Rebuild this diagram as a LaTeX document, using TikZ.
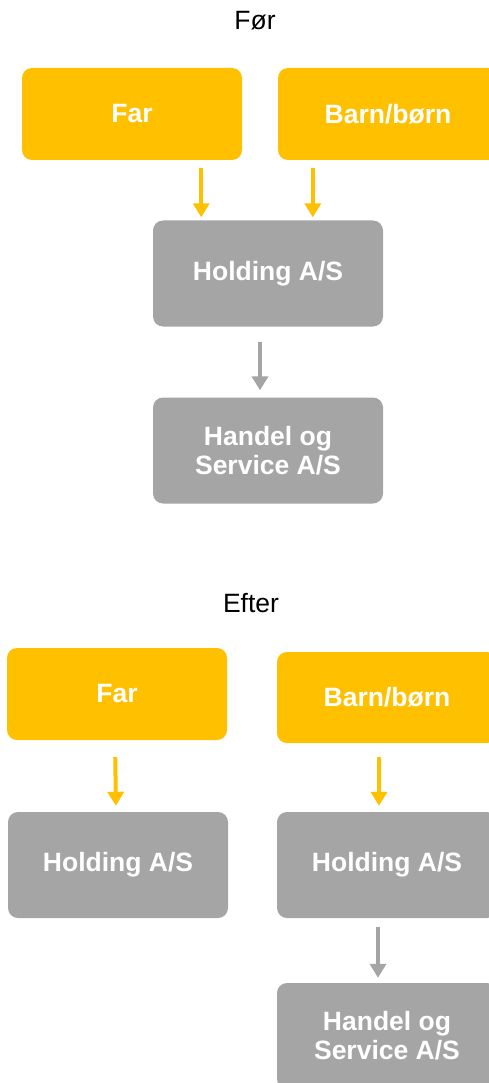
\documentclass[tikz,border=0pt]{standalone}
\usepackage{fontspec}
\setmainfont{Liberation Sans}
\usetikzlibrary{positioning, arrows.meta}
\definecolor{gold}{HTML}{FFC000}
\definecolor{midgray}{HTML}{A5A5A5}

\begin{document}
\begin{tikzpicture}
[x=1pt,y=-1pt,on grid,node distance=1pt,
                    title/.style={font=\fontsize{26.5}{30}\selectfont, anchor=base},
                    box/.style={rounded corners=10pt, inner sep=0pt, align=center, text=white,
                      font=\fontsize{26.5}{29}\selectfont\bfseries},
                    owner/.style={box, fill=gold, minimum width=220pt, minimum height=92pt},
                    firm/.style={box, fill=midgray, minimum height=106pt},
                    goldarrow/.style={draw=gold, line width=4pt, -{Triangle[width=16pt,length=14pt]}},
                    grayarrow/.style={draw=midgray, line width=4pt, -{Triangle[width=16pt,length=14pt]}}]
\useasboundingbox (0,0) rectangle (488,1083);

% Foer
\node[title] (before) at (255,30) {Før};
\node[owner] (far1) at (132,114) {Far};
\node[owner, right=256pt of far1] (barn1) {Barn/børn};
\node[firm, minimum width=230pt] (hold1) at (268,273.5) {Holding A/S};
\node[firm, minimum width=230pt, below=177pt of hold1] (handel1) {Handel og\\Service A/S};

\draw[goldarrow, shorten <=8pt, shorten >=3pt]
	([xshift=-41pt]far1.south east) -- ([xshift=-41pt]far1.south east |- hold1.north);
\draw[goldarrow, shorten <=8pt, shorten >=3pt]
	([xshift=35pt]barn1.south west) -- ([xshift=35pt]barn1.south west |- hold1.north);
\draw[grayarrow, shorten <=15pt, shorten >=7pt]
	([xshift=-8pt]hold1.south) -- ([xshift=-8pt]handel1.north);

% Efter
\node[title] (after) at (251,612) {Efter};
\node[owner] (far2) at (117,694) {Far};
\node[owner, minimum height=91pt] (barn2) at (387,697.5) {Barn/børn};
\node[firm, minimum width=220pt] (hold2l) at (118,865) {Holding A/S};
\node[firm, minimum width=220pt] (hold2r) at (387,865) {Holding A/S};
\node[firm, minimum width=220pt, below=171pt of hold2r] (handel2) {Handel og\\Service A/S};

\draw[goldarrow, shorten <=17pt, shorten >=6pt]
	([xshift=-2pt]far2.south) -- ([xshift=-2pt]hold2l.north);
\draw[goldarrow, shorten <=14pt, shorten >=6pt]
	([xshift=-8pt]barn2.south) -- ([xshift=-8pt]hold2r.north);
\draw[grayarrow, shorten <=9pt, shorten >=5pt]
	([xshift=-9pt]hold2r.south) -- ([xshift=-9pt]handel2.north);
\end{tikzpicture}
\end{document}
